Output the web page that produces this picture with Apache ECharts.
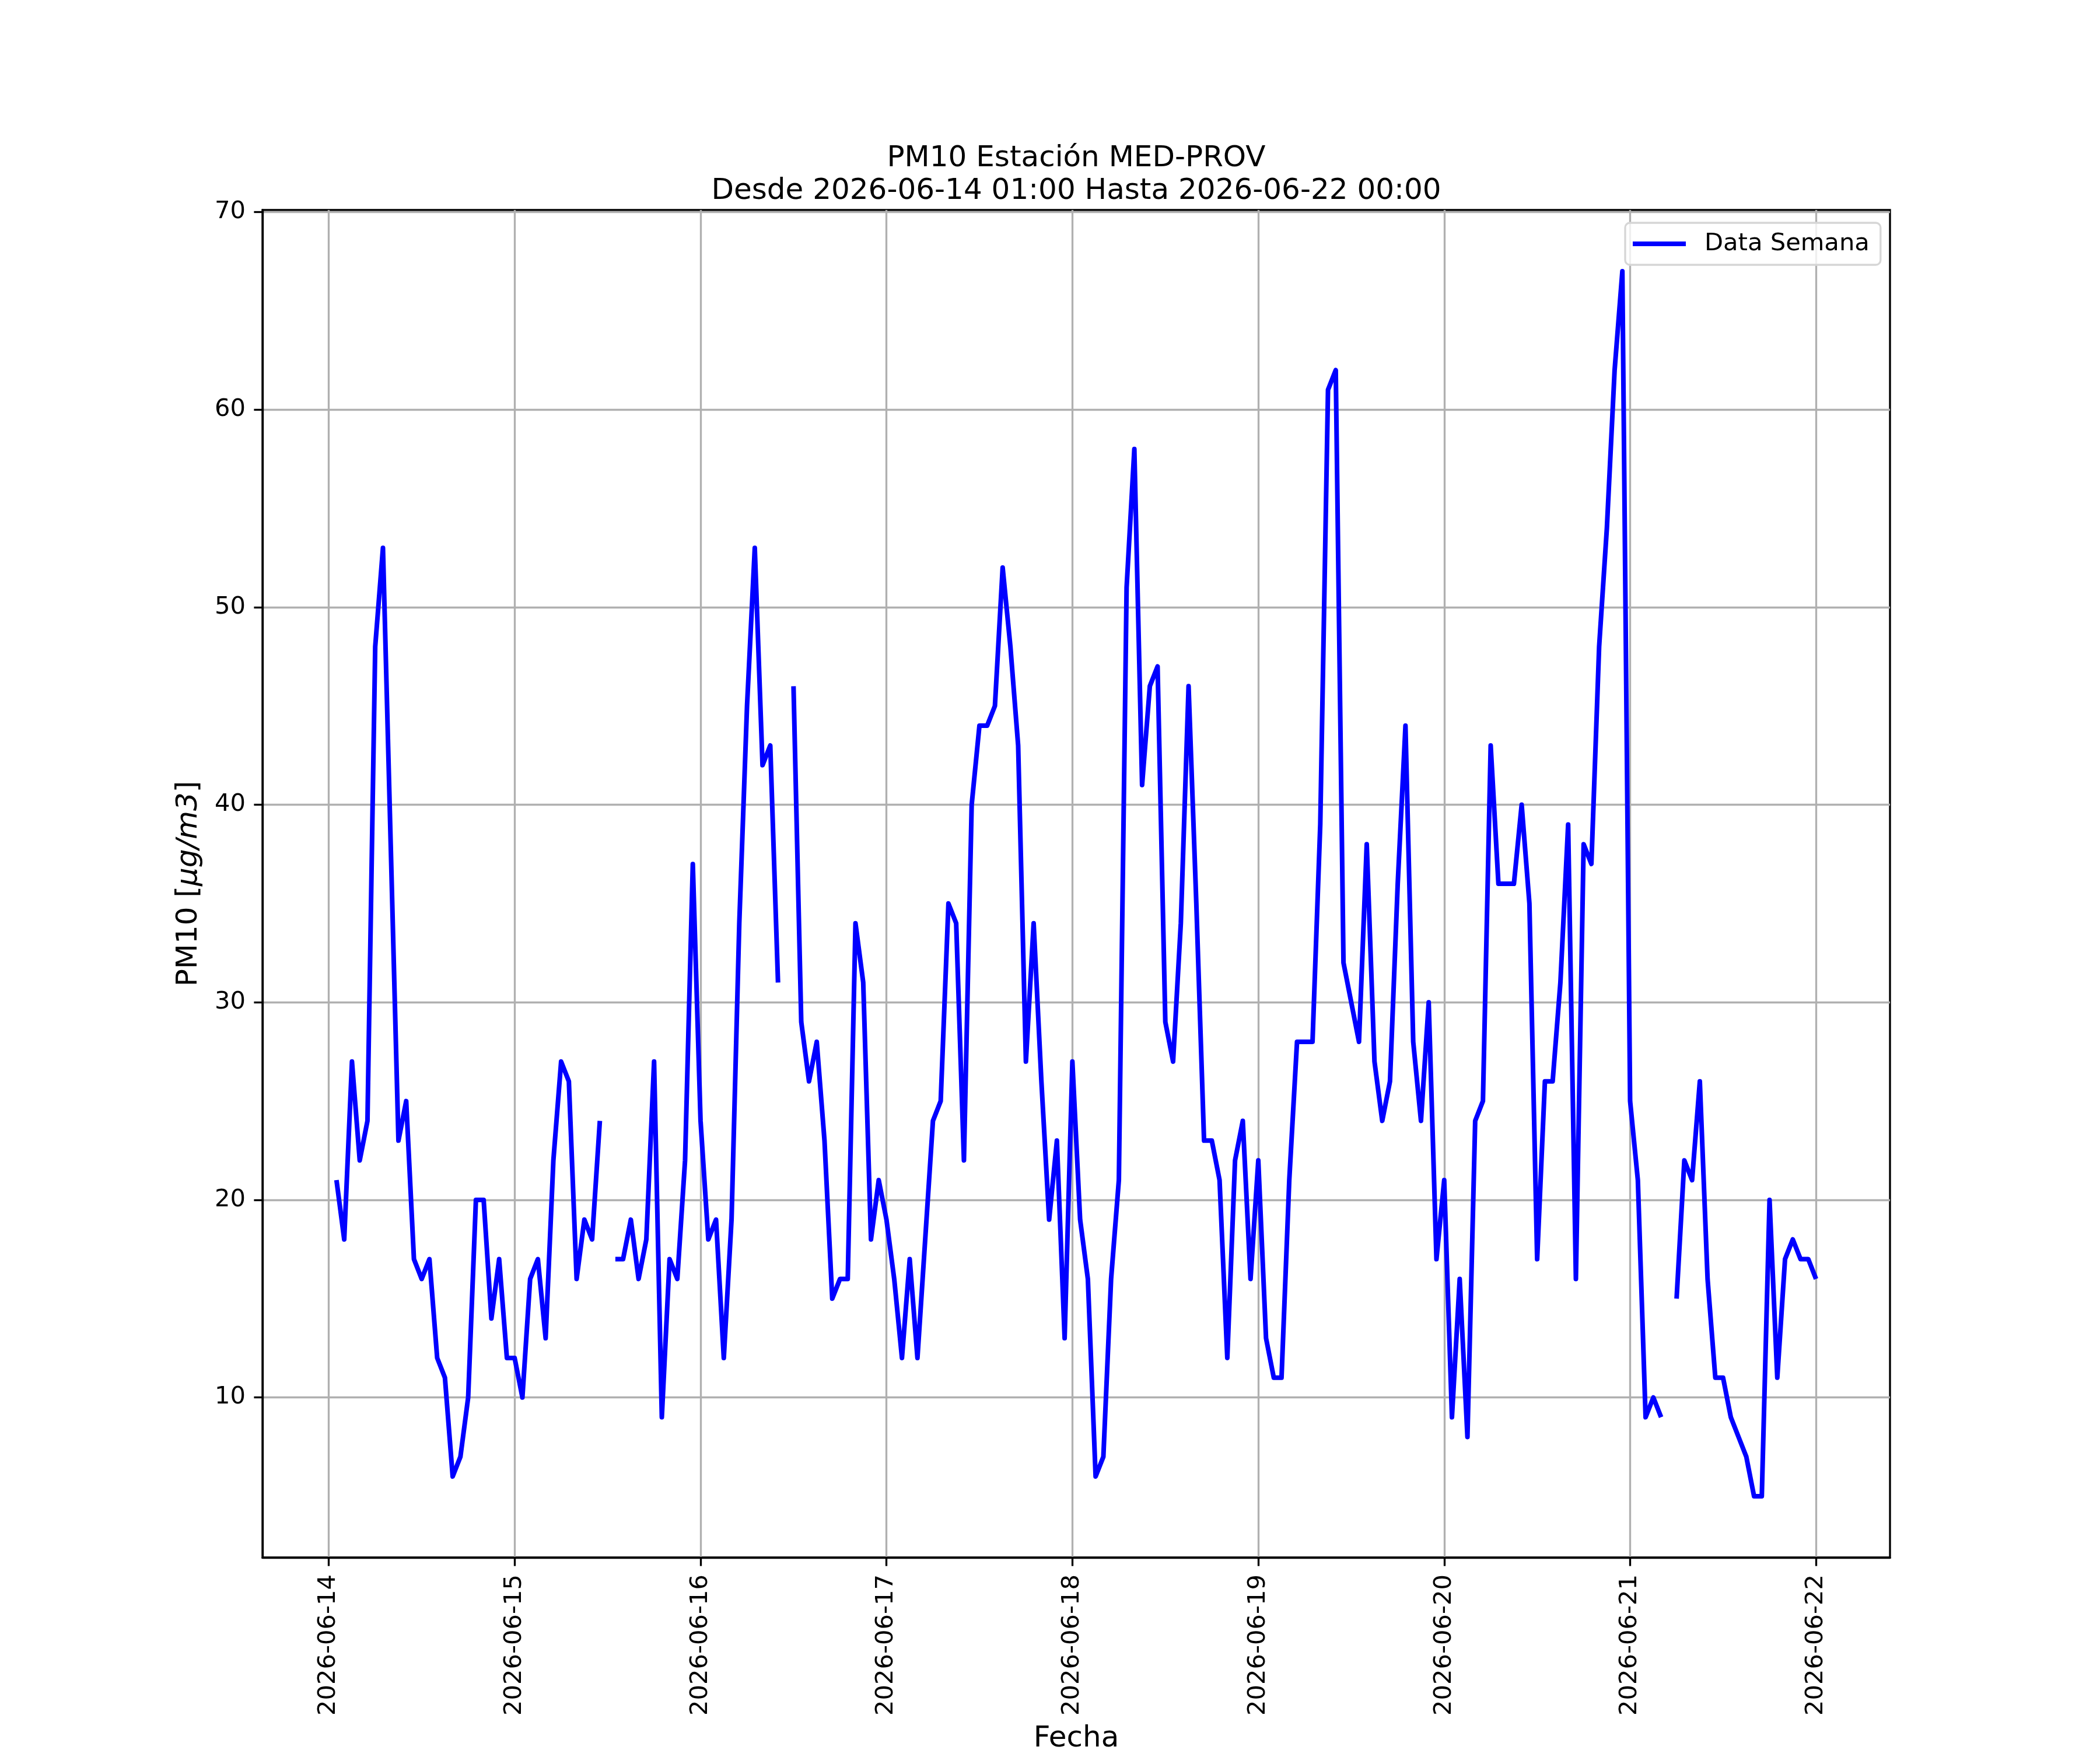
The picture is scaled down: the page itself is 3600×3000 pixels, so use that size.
<!DOCTYPE html>
<html>
<head>
<meta charset="utf-8">
<script src="https://cdn.jsdelivr.net/npm/echarts@6.0.0/dist/echarts.min.js"></script>
<style>
  html, body { margin: 0; padding: 0; background: #fff; }
  #main { width: 3600px; height: 3000px; }
</style>
</head>
<body>
<div id="main"></div>
<script>
// tick labels, one per day (midnight)
var dayLabels = ['2026-06-14', '2026-06-15', '2026-06-16', '2026-06-17', '2026-06-18',
                 '2026-06-19', '2026-06-20', '2026-06-21', '2026-06-22'];
var yTicks = [10, 20, 30, 40, 50, 60, 70];

// hourly PM10, hours 01:00 .. 24:00 (= next day 00:00), null = no data
var pm10_0614 = [21, 18, 27, 22, 24, 48, 53, 38, 23, 25, 17, 16, 17, 12, 11, 6, 7, 10, 20, 20, 14, 17, 12, 12];
var pm10_0615 = [10, 16, 17, 13, 22, 27, 26, 16, 19, 18, 24, null, 17, 17, 19, 16, 18, 27, 9, 17, 16, 22, 37, 24];
var pm10_0616 = [18, 19, 12, 19, 34, 45, 53, 42, 43, 31, null, 46, 29, 26, 28, 23, 15, 16, 16, 34, 31, 18, 21, 19];
var pm10_0617 = [16, 12, 17, 12, 18, 24, 25, 35, 34, 22, 40, 44, 44, 45, 52, 48, 43, 27, 34, 26, 19, 23, 13, 27];
var pm10_0618 = [19, 16, 6, 7, 16, 21, 51, 58, 41, 46, 47, 29, 27, 34, 46, 35, 23, 23, 21, 12, 22, 24, 16, 22];
var pm10_0619 = [13, 11, 11, 21, 28, 28, 28, 39, 61, 62, 32, 30, 28, 38, 27, 24, 26, 36, 44, 28, 24, 30, 17, 21];
var pm10_0620 = [9, 16, 8, 24, 25, 43, 36, 36, 36, 40, 35, 17, 26, 26, 31, 39, 16, 38, 37, 48, 54, 62, 67, 25];
var pm10_0621 = [21, 9, 10, 9, null, 15, 22, 21, 26, 16, 11, 11, 9, 8, 7, 5, 5, 20, 11, 17, 18, 17, 17, 16];

var hourly = [].concat(pm10_0614, pm10_0615, pm10_0616, pm10_0617,
                       pm10_0618, pm10_0619, pm10_0620, pm10_0621);
// x = hours since 2026-06-14 00:00
var seriesData = hourly.map(function (v, i) {
  return [i + 1, v === null ? '-' : v];
});
var dayTicks = dayLabels.map(function (d, i) { return i * 24; });

var FONT = 'DejaVu Sans';
var FS = 41.67;
var FS_LABEL = 50;

var chart = echarts.init(document.getElementById('main'), null, { renderer: 'canvas', width: 3600, height: 3000 });

var option = {
  backgroundColor: '#ffffff',
  animation: false,
  title: {
    text: 'PM10 Estación MED-PROV\nDesde 2026-06-14 01:00 Hasta 2026-06-22 00:00',
    left: 1845,
    top: 244,
    textAlign: 'center',
    padding: 0,
    textStyle: {
      fontFamily: FONT,
      fontSize: 50,
      fontWeight: 'normal',
      color: '#000',
      lineHeight: 56
    }
  },
  legend: {
    data: [{ name: 'Data Semana', icon: 'rect' }],
    left: 2786,
    top: 382,
    orient: 'vertical',
    padding: [11, 19, 11, 13],
    itemWidth: 91,
    itemHeight: 8,
    backgroundColor: 'rgba(255,255,255,0.8)',
    borderColor: '#d6d6d6',
    borderWidth: 3.3,
    borderRadius: 8,
    textStyle: {
      fontFamily: FONT,
      fontSize: FS,
      color: '#000',
      lineHeight: 50,
      padding: [0, 0, 0, 27]
    }
  },
  grid: {
    left: 450,
    right: 360,
    top: 360,
    bottom: 330,
    containLabel: false,
    outerBoundsMode: 'none',
    show: true,
    borderColor: '#000',
    borderWidth: 3.33,
    backgroundColor: '#fff'
  },
  xAxis: {
    type: 'value',
    min: -8.55,
    max: 201.55,
    name: 'Fecha',
    nameLocation: 'middle',
    nameGap: 286,
    nameTextStyle: { fontFamily: FONT, fontSize: FS_LABEL, color: '#000', verticalAlign: 'top' },
    axisLine: { show: true, onZero: false, lineStyle: { color: '#000', width: 3.33 } },
    axisTick: { show: true, inside: false, length: 14.6, customValues: dayTicks,
                lineStyle: { color: '#000', width: 3.33 } },
    axisLabel: {
      customValues: dayTicks,
      rotate: 90,
      margin: 29,
      fontFamily: FONT,
      fontSize: FS,
      color: '#000',
      formatter: function (v) { return dayLabels[Math.round(v / 24)]; }
    },
    splitLine: { show: true, lineStyle: { color: '#b0b0b0', width: 3.33 } }
  },
  yAxis: {
    type: 'value',
    min: 1.9,
    max: 70.1,
    name: '{n|PM10 [}{i|μg/m3}{n|]}',
    nameLocation: 'middle',
    nameGap: 97,
    nameRotate: 90,
    nameTextStyle: {
      rich: {
        n: { fontFamily: FONT, fontSize: FS_LABEL, color: '#000', lineHeight: 58 },
        i: { fontFamily: FONT, fontSize: FS_LABEL, color: '#000', fontStyle: 'italic', lineHeight: 58 }
      }
    },
    axisLine: { show: true, onZero: false, lineStyle: { color: '#000', width: 3.33 } },
    axisTick: { show: true, inside: false, length: 14.6, customValues: yTicks,
                lineStyle: { color: '#000', width: 3.33 } },
    axisLabel: {
      customValues: yTicks,
      margin: 29,
      fontFamily: FONT,
      fontSize: FS,
      color: '#000'
    },
    splitLine: { show: true, lineStyle: { color: '#b0b0b0', width: 3.33 } }
  },
  series: [{
    name: 'Data Semana',
    type: 'line',
    data: seriesData,
    connectNulls: false,
    showSymbol: false,
    symbol: 'none',
    color: '#0000ff',
    lineStyle: { color: '#0000ff', width: 8, join: 'round', cap: 'butt' }
  }]
};

chart.setOption(option);
window.onresize = function () {
  chart.resize();
};
</script>
</body>
</html>
